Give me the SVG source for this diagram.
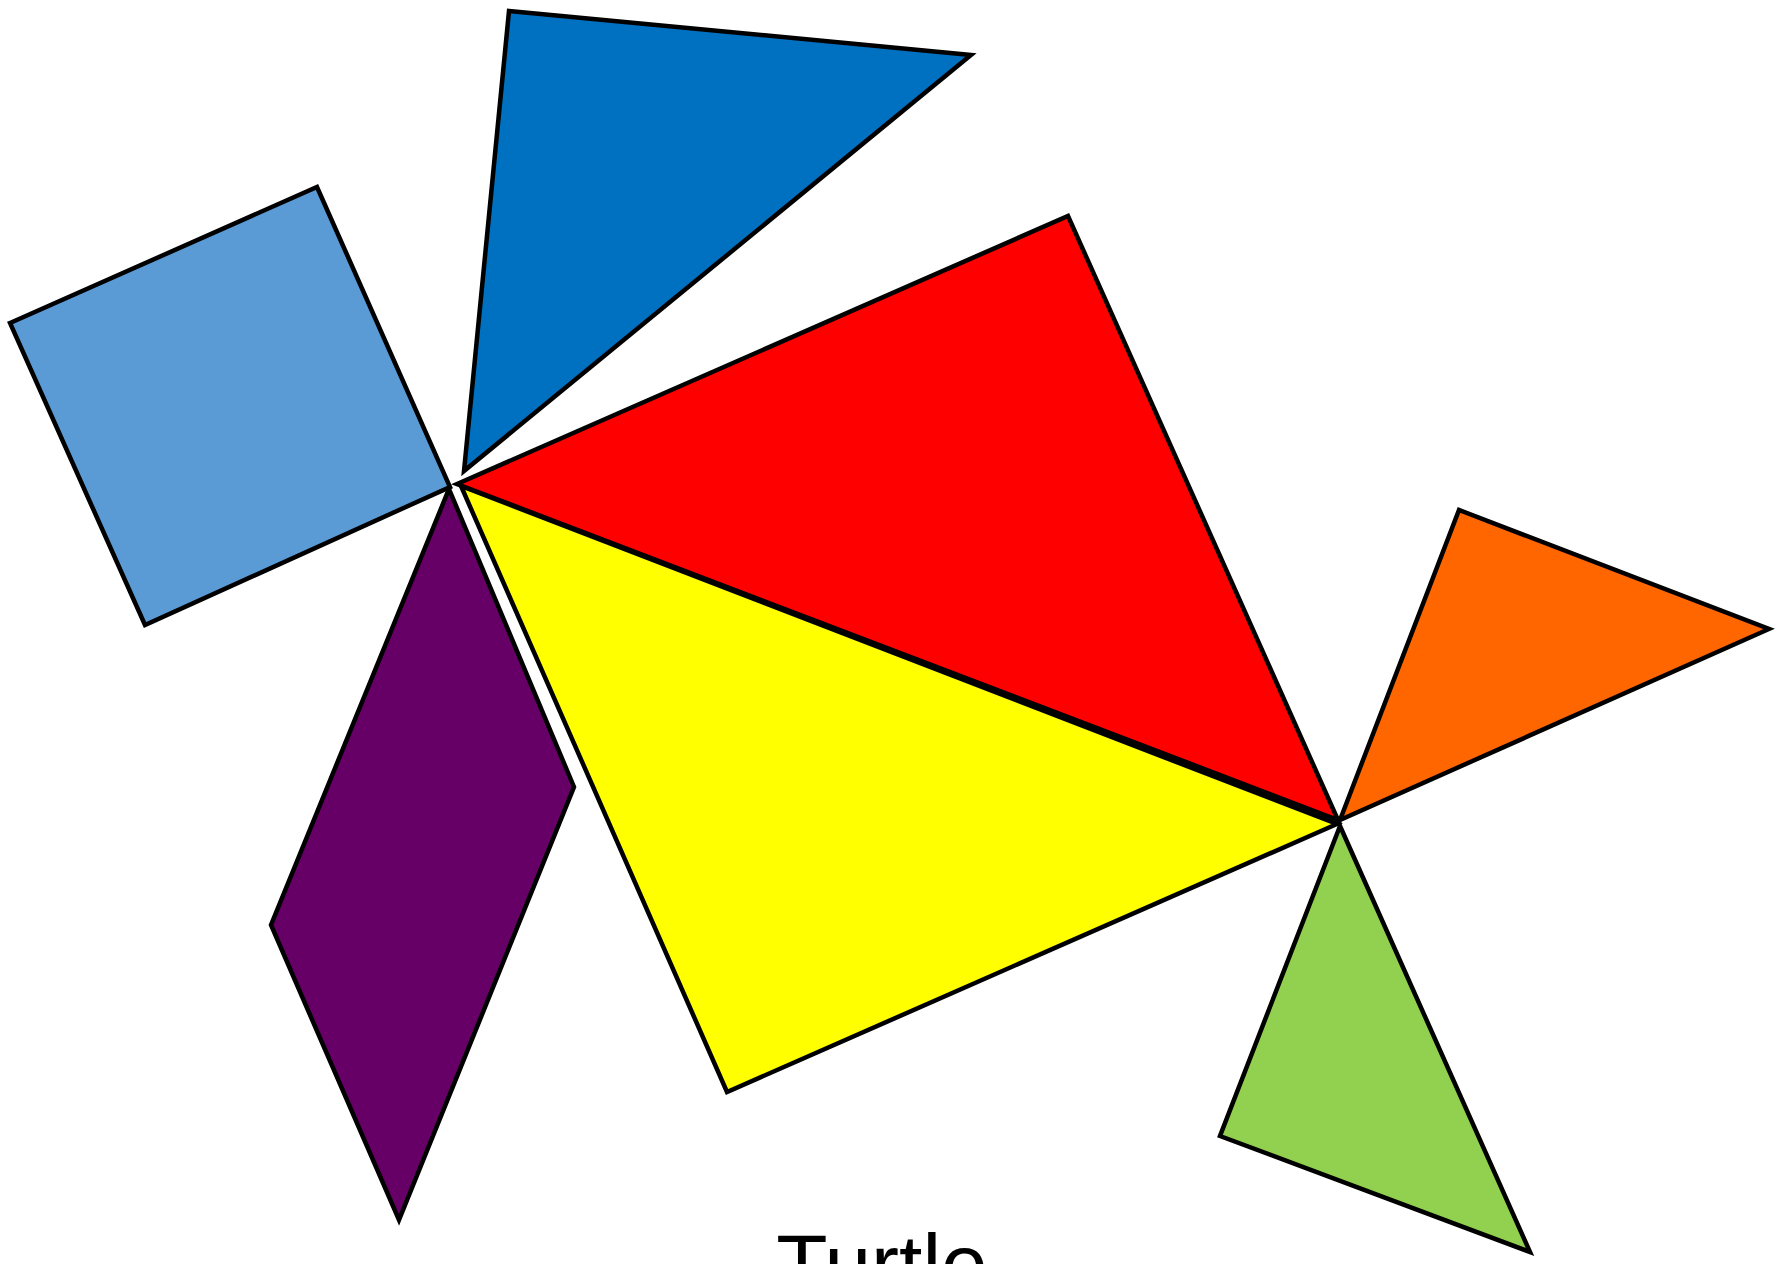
<svg xmlns="http://www.w3.org/2000/svg" width="1790" height="1264" viewBox="0 0 1790 1264">
<style>
.p{stroke:#000;stroke-width:4.5;stroke-linejoin:miter}
.t{font-family:"Liberation Sans",Arial,sans-serif;font-size:84px;fill:#000}
</style>
<rect width="1790" height="1264" fill="#fff"/>
<g id="blue-triangle"><polygon class="p" fill="#0070C0" points="509,11 971,55 464,471"/></g>
<g id="lightblue-square"><polygon class="p" fill="#5B9BD5" points="10,323 317,187 450,487 145,625"/></g>
<g id="purple-parallelogram"><polygon class="p" fill="#660066" points="449,489 574,787 399,1220 271,925"/></g>
<g id="yellow-triangle"><polygon class="p" fill="#FFFF00" points="461,486 1337,824 727,1092"/></g>
<g id="red-triangle"><polygon class="p" fill="#FF0000" points="457,484 1068,216 1338,820"/></g>
<g id="orange-triangle"><polygon class="p" fill="#FF6600" points="1340,820 1459,510 1769,629"/></g>
<g id="green-triangle"><polygon class="p" fill="#92D050" points="1340,826 1530,1252 1220,1136"/></g>
<g id="connectors"></g>
<text class="t" x="882" y="1293" text-anchor="middle">Turtle</text>
</svg>
